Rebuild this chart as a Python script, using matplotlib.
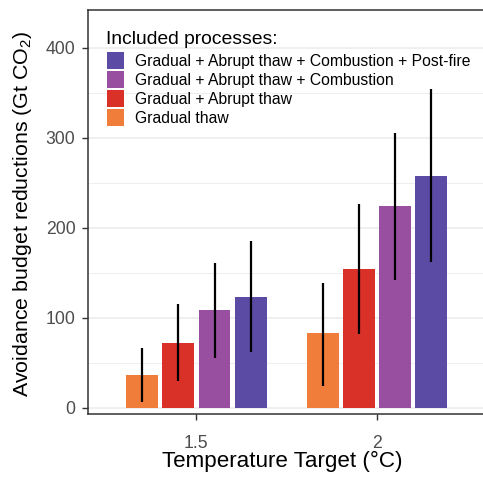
import matplotlib
matplotlib.use("Agg")
import matplotlib.pyplot as plt
from matplotlib.patches import Patch
import numpy as np

plt.rcParams['font.family'] = ['Liberation Sans', 'DejaVu Sans']
plt.rcParams['mathtext.fontset'] = 'custom'
plt.rcParams['mathtext.rm'] = 'Liberation Sans'
plt.rcParams['mathtext.it'] = 'Liberation Sans:italic'

targets = ["1.5", "2"]
processes = ["Gradual thaw", "Gradual + Abrupt thaw",
             "Gradual + Abrupt thaw + Combustion",
             "Gradual + Abrupt thaw + Combustion + Post-fire"]
colors = ["#F07E3A", "#D93128", "#984FA0", "#5B4BA5"]
# values[process][target]
values = [[37, 83], [72, 154], [109, 224], [123, 258]]
lower = [[7, 24], [30, 82], [56, 142], [62, 162]]
upper = [[67, 139], [116, 227], [161, 306], [186, 354]]

W, H = 483, 480
fig = plt.figure(figsize=(W / 100, H / 100), dpi=100)
x0, x1 = 88, 485.6
y0, y1 = 414, 10
ax = fig.add_axes([x0 / W, 1 - y0 / H, (x1 - x0) / W, (y0 - y1) / H])

xpos = np.arange(1, len(targets) + 1)
slot = 0.2
bw = 0.176
for i, proc in enumerate(processes):
    xs = xpos + (i - 1.5) * slot
    ax.bar(xs, values[i], width=bw, color=colors[i], zorder=2)
    ax.vlines(xs, lower[i], upper[i], colors='black', linewidth=1.6, zorder=3)

ax.set_xlim(0.4, 2.6)
ax.set_ylim(-6.67, 442.2)
ax.set_xticks(xpos)
ax.set_xticklabels(targets)
ax.set_yticks([0, 100, 200, 300, 400])
ax.set_yticks([50, 150, 250, 350], minor=True)
ax.grid(axis='y', which='major', color='#EBEBEB', linewidth=1.1, zorder=0)
ax.grid(axis='y', which='minor', color='#EBEBEB', linewidth=0.6, zorder=0)
ax.grid(axis='x', visible=False)
ax.set_axisbelow(True)
ax.tick_params(axis='both', which='major', length=4, width=1.0, color='#333333',
               labelcolor='#4D4D4D', labelsize=12.7)
ax.tick_params(axis='y', which='minor', length=0)
ax.tick_params(axis='x', pad=11)
ax.tick_params(axis='y', pad=5)
for s in ['left', 'bottom', 'top']:
    ax.spines[s].set_color('#333333')
    ax.spines[s].set_linewidth(1.1)
ax.spines['right'].set_visible(False)

ax.set_xlabel("Temperature Target (°C)", fontsize=16.1, color='black')
ax.xaxis.set_label_coords(282 / W, 1 - 461 / H, transform=fig.transFigure)
ax.xaxis.label.set_va('center')
ax.set_ylabel("Avoidance budget reductions (Gt CO$_2$)", fontsize=15.4, color='black')
ax.yaxis.set_label_coords(22.5 / W, 1 - 214 / H, transform=fig.transFigure)
ax.yaxis.label.set_va('center')

handles = [Patch(facecolor=colors[i], edgecolor='none') for i in range(4)][::-1]
labels = processes[::-1]
fs = 11.3
leg = ax.legend(handles, labels, loc='upper left',
                bbox_to_anchor=(107 / W, 1 - 52.2 / H), bbox_transform=fig.transFigure,
                frameon=False, fontsize=fs,
                handlelength=1.083, handleheight=1.289, handletextpad=0.70,
                labelspacing=0.13, borderpad=0, borderaxespad=0)
fig.text(106.5 / W, 1 - 44.5 / H, "Included processes:", fontsize=13.9,
         ha='left', va='baseline', color='black')

fig.savefig("out.png", dpi=100)
